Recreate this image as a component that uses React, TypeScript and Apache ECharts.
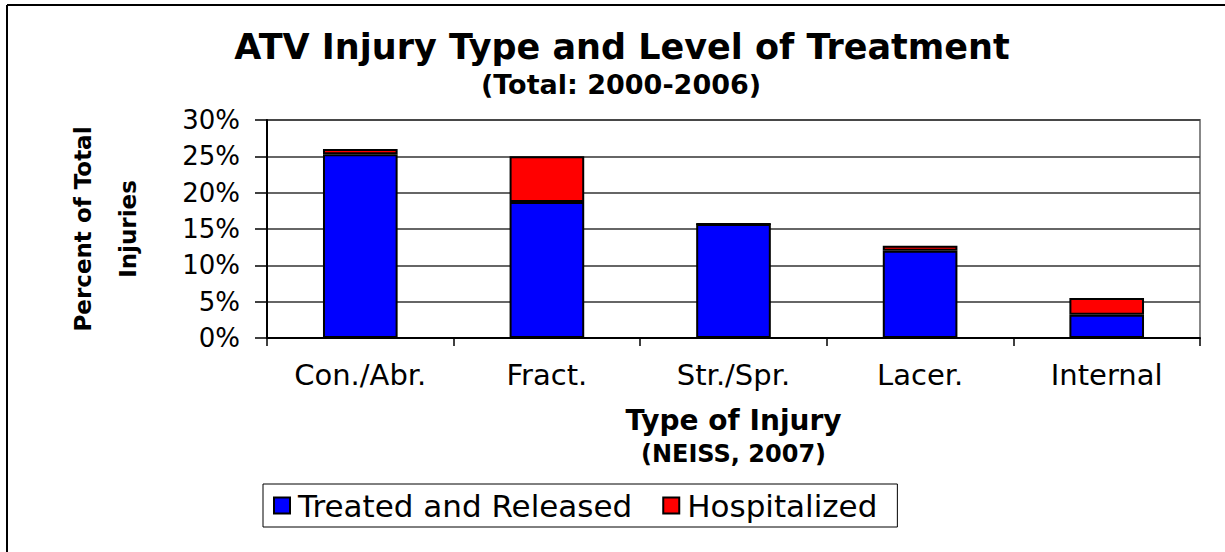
import React, { useEffect, useRef } from "react";
import * as echarts from "echarts";

const categories = ["Con./Abr.", "Fract.", "Str./Spr.", "Lacer.", "Internal"];
const treatedReleased = [25.3, 18.7, 15.7, 12.0, 3.2];
const hospitalized = [0.7, 6.3, 0, 0.7, 2.3];
const seriesNames = ["Treated and Released", "Hospitalized"];
const yTicks = { min: 0, max: 30, interval: 5 };

const FONT = "DejaVu Sans";

export default function App() {
  const ref = useRef<HTMLDivElement>(null);
  useEffect(() => {
    if (!ref.current) return;
    const chart = echarts.init(ref.current, undefined, { renderer: "svg" });
    chart.setOption({
      animation: false,
      backgroundColor: "#ffffff",
      textStyle: { fontFamily: FONT, color: "#000" },
      title: [
        {
          text: "ATV Injury Type and Level of Treatment",
          left: 617,
          top: 24,
          textAlign: "center",
          textStyle: { fontFamily: FONT, fontSize: 35, fontWeight: "bold", color: "#000" },
        },
        {
          text: "(Total: 2000-2006)",
          left: 616,
          top: 66,
          textAlign: "center",
          textStyle: { fontFamily: FONT, fontSize: 27, fontWeight: "bold", color: "#000" },
        },
      ],
      graphic: [
        { type: "line", shape: { x1: 7, y1: 5, x2: 1225, y2: 5 }, style: { stroke: "#000", lineWidth: 2 } },
        { type: "line", shape: { x1: 7, y1: 5, x2: 7, y2: 552 }, style: { stroke: "#000", lineWidth: 2 } },
      ],
      legend: {
        left: 263,
        top: 484,
        orient: "horizontal",
        backgroundColor: "#fff",
        borderColor: "#000",
        borderWidth: 1,
        padding: [6, 20, 6, 10],
        itemGap: 30,
        itemWidth: 16,
        itemHeight: 16,
        icon: "rect",
        data: seriesNames,
        textStyle: { fontFamily: FONT, fontSize: 31, color: "#000", padding: [0, 0, 0, 3] },
      },
      grid: {
        left: 267,
        top: 120,
        right: 25,
        bottom: 214,
        show: true,
        borderColor: "#888",
        borderWidth: 2,
        containLabel: false,
      },
      xAxis: {
        type: "category",
        data: categories,
        name: "{a|Type of Injury}\n{b|(NEISS, 2007)}",
        nameLocation: "middle",
        nameGap: 65,
        nameTextStyle: {
          rich: {
            a: { fontFamily: FONT, fontSize: 28, fontWeight: "bold", color: "#000", lineHeight: 34 },
            b: { fontFamily: FONT, fontSize: 24, fontWeight: "bold", color: "#000", lineHeight: 34 },
          },
        },
        axisLine: { lineStyle: { color: "#000", width: 2 } },
        axisTick: { show: true, length: 8, lineStyle: { color: "#000", width: 1.5 } },
        axisLabel: { fontFamily: FONT, fontSize: 29, color: "#000", margin: 22 },
      },
      yAxis: {
        type: "value",
        min: yTicks.min,
        max: yTicks.max,
        interval: yTicks.interval,
        name: "Percent of Total\nInjuries",
        nameLocation: "middle",
        nameRotate: 90,
        nameGap: 117,
        nameTextStyle: { fontFamily: FONT, fontSize: 23, fontWeight: "bold", color: "#000", lineHeight: 45 },
        axisLine: { show: true, lineStyle: { color: "#000", width: 2 } },
        axisTick: { show: true, length: 12, lineStyle: { color: "#000", width: 1.5 } },
        axisLabel: { fontFamily: FONT, fontSize: 26, color: "#000", margin: 27, formatter: "{value}%" },
        splitLine: { lineStyle: { color: "#333", width: 1.5 } },
      },
      series: [
        {
          name: seriesNames[0],
          type: "bar",
          stack: "total",
          data: treatedReleased,
          barWidth: "40%",
          itemStyle: { color: "#0000ff", borderColor: "#000", borderWidth: 2 },
        },
        {
          name: seriesNames[1],
          type: "bar",
          stack: "total",
          data: hospitalized,
          barWidth: "40%",
          itemStyle: { color: "#ff0000", borderColor: "#000", borderWidth: 2 },
        },
      ],
    });
    return () => chart.dispose();
  }, []);
  return (
    <div
      ref={ref}
      style={{ position: "fixed", left: 0, top: 0, width: 1225, height: 552, background: "#fff" }}
    />
  );
}
